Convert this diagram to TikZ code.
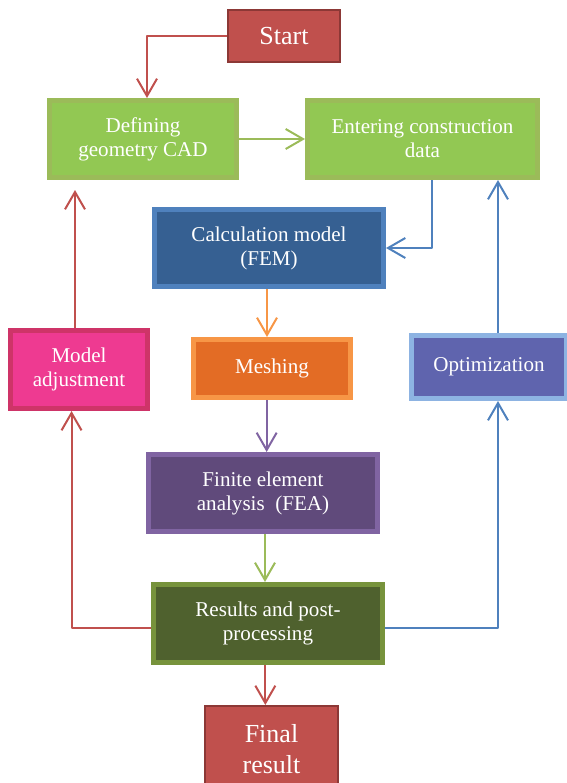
\documentclass[tikz,border=0pt]{standalone}
\usepackage{fontspec}
\setmainfont{Liberation Serif}
\usepackage{xcolor}
\usetikzlibrary{arrows.meta}
\definecolor{femred}{RGB}{192,80,77}
\definecolor{femredb}{RGB}{140,56,54}
\definecolor{femlime}{RGB}{146,200,83}
\definecolor{femlimeb}{RGB}{155,187,89}
\definecolor{femnavy}{RGB}{54,96,146}
\definecolor{femblue}{RGB}{79,129,189}
\definecolor{femorange}{RGB}{227,108,37}
\definecolor{femorangeb}{RGB}{247,150,70}
\definecolor{fempink}{RGB}{238,58,145}
\definecolor{fempinkb}{RGB}{206,52,104}
\definecolor{femviolet}{RGB}{95,100,174}
\definecolor{femsky}{RGB}{141,179,226}
\definecolor{fempurple}{RGB}{96,74,123}
\definecolor{fempurpleb}{RGB}{128,100,162}
\definecolor{femolive}{RGB}{79,97,46}
\definecolor{femoliveb}{RGB}{119,147,60}

\begin{document}
\begin{tikzpicture}[x=0.75pt, y=-0.75pt]
  \tikzstyle{mybox}=[rectangle, line width=3.75pt, inner sep=0pt, text=white,
    align=center, font=\fontsize{15.8}{18}\selectfont];
  \tikzstyle{myend}=[mybox, line width=1.5pt, fill=femred, draw=femredb,
    font=\fontsize{19.5}{23.25}\selectfont];
  \tikzstyle{myconn}=[line width=1.5pt, line join=round,
    -{Straight Barb[length=13pt, width=15pt, line width=1.5pt]}];
  %
  \useasboundingbox (0, 0) rectangle (567, 783);
  \clip (0, 0) rectangle (567, 783);
  %
  % start and end
  \node[myend, minimum width=84pt, minimum height=39pt] (start) at (284, 36) {Start};
  \node[myend, minimum width=99.75pt, minimum height=64.5pt] (final) at (271.5, 749)
    {Final\\result};
  %
  % geometry and data
  \node[mybox, fill=femlime, draw=femlimeb, minimum width=140.25pt,
    minimum height=57.75pt] (defining) at (143, 139) {Defining\\geometry CAD};
  \node[mybox, fill=femlime, draw=femlimeb, minimum width=172.5pt,
    minimum height=57.75pt] (entering) at (422.5, 139) {Entering construction\\data};
  %
  % main chain
  \node[mybox, fill=femnavy, draw=femblue, minimum width=171.75pt,
    minimum height=57.75pt] (calc) at (269, 248) {Calculation model\\(FEM)};
  \node[mybox, fill=femorange, draw=femorangeb, minimum width=117.75pt,
    minimum height=43.5pt] (meshing) at (272, 368.5) {Meshing};
  \node[mybox, fill=fempurple, draw=fempurpleb, minimum width=171.75pt,
    minimum height=57.75pt] (fea) at (263, 493) {Finite element\\analysis\ \ (FEA)};
  \node[mybox, fill=femolive, draw=femoliveb, minimum width=171.75pt,
    minimum height=58.5pt] (results) at (268, 623.5) {Results and post-\\processing};
  %
  % side loops
  \node[mybox, fill=fempink, draw=fempinkb, minimum width=102.75pt,
    minimum height=58.5pt] (madj) at (79, 369.5) {Model\\adjustment};
  \node[mybox, fill=femviolet, draw=femsky, minimum width=116.25pt,
    minimum height=47.25pt] (opt) at (489, 367) {Optimization};
  %
  % connectors
  \draw[myconn, femred] (start.west) -| ([xshift=3pt]defining.north);
  \draw[myconn, femlimeb] (defining.east) -- (entering.west);
  \draw[myconn, femblue] ([xshift=7pt]entering.south) |- (calc.east);
  \draw[myconn, femorangeb] ([xshift=-1.5pt]calc.south) --
    ([xshift=-1.5pt]calc.south |- meshing.north);
  \draw[myconn, fempurpleb] ([xshift=-4pt]meshing.south) --
    ([xshift=-4pt]meshing.south |- fea.north);
  \draw[myconn, femlimeb] ([xshift=1.5pt]fea.south) --
    ([xshift=1.5pt]fea.south |- results.north);
  \draw[myconn, femred] ([xshift=-2pt]results.south) --
    ([xshift=-2pt]results.south |- final.north);
  %
  \draw[myconn, femred] ([yshift=-3.4pt]results.west) -| ([xshift=-5.6pt]madj.south);
  \draw[myconn, femred, shorten >=7.5pt] ([xshift=-3pt]madj.north) --
    ([xshift=-3pt]madj.north |- defining.south);
  \draw[myconn, femblue] ([yshift=-3.4pt]results.east) -| ([xshift=6.75pt]opt.south);
  \draw[myconn, femblue] ([xshift=6.75pt]opt.north) --
    ([xshift=6.75pt]opt.north |- entering.south);
\end{tikzpicture}
\end{document}
